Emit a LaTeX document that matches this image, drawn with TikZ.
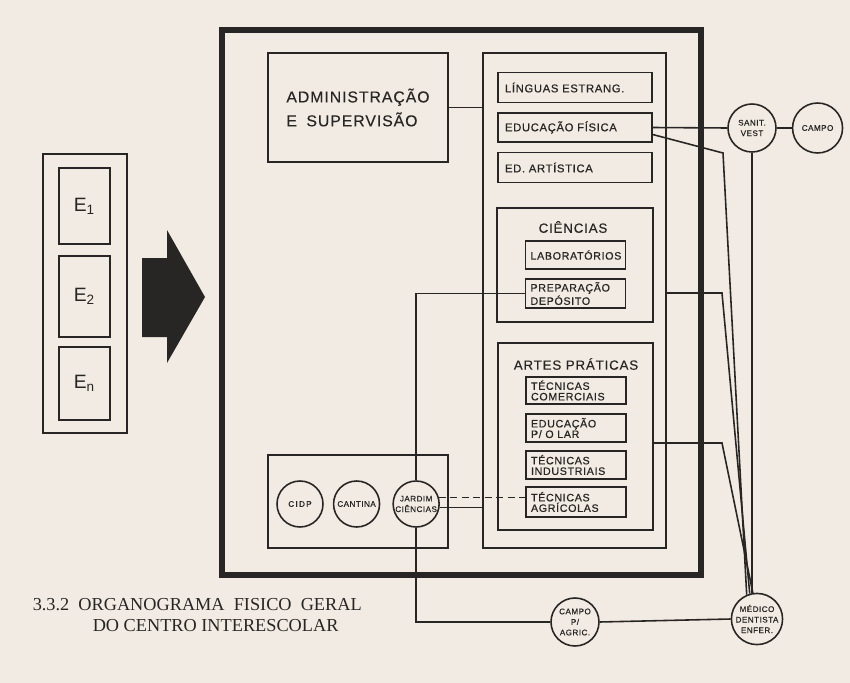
\documentclass[tikz,border=0pt]{standalone}
\usepackage{fontspec}
\setmainfont{Liberation Serif}
\newfontfamily\boxfont[LetterSpace=6,FakeBold=0.6]{Liberation Sans}
\newfontfamily\headfont[LetterSpace=6,FakeBold=0.3]{Liberation Sans}
\newfontfamily\efont{Liberation Sans}
\usepackage{tikz}
\usetikzlibrary{positioning}
\definecolor{paper}{RGB}{242,235,227}
\definecolor{ink}{RGB}{40,38,36}

\begin{document}
\begin{tikzpicture}
          [x=0.02cm,y=-0.02cm,color=ink,line width=0.9pt,
           box/.style={draw,rectangle,inner sep=0pt},
           dept/.style={box,minimum width=3.08cm,minimum height=0.6cm,text width=2.8cm,inner xsep=0.14cm,align=left,font=\boxfont\fontsize{6.4}{7}\selectfont},
           sub/.style={box,minimum width=2cm,minimum height=0.56cm,text width=1.8cm,inner xsep=0.1cm,align=left,font=\boxfont\fontsize{6.1}{6}\selectfont},
           grouptitle/.style={font=\headfont\fontsize{7.6}{8}\selectfont},
           place/.style={circle,draw,minimum size=0.92cm,inner sep=0pt,align=center,font=\boxfont\fontsize{4.6}{6}\selectfont},
           ebox/.style={box,minimum width=1.02cm,font=\efont\fontsize{11}{12}\selectfont},
           link/.style={line width=0.9pt}]
          \tikzstyle{caption}=[anchor=base west,inner sep=0pt,font=\fontsize{10.4}{12}\selectfont]

          \path[use as bounding box,fill=paper] (0,0) rectangle (850,683);

          % escolas
          \node[box,minimum width=1.68cm,minimum height=5.58cm] (escolas) at (85,293.5) {};
          \node[ebox,minimum height=1.52cm] (e1) at (84.5,206) {E\textsubscript{1}};
          \node[ebox,minimum height=1.62cm] (e2) at (84.5,296.5) {E\textsubscript{2}};
          \node[ebox,minimum height=1.46cm] (en) at (84.5,383.5) {E\textsubscript{n}};
          \fill (142,258) -- (167,258) -- (167,230) -- (205,297) -- (167,363) -- (167,337) -- (142,337) -- cycle;

          % centro interescolar
          \node[box,line width=3.6pt,minimum width=9.58cm,minimum height=10.9cm] (campus) at (461.5,302.5) {};
          \node[box,minimum width=3.6cm,minimum height=2.18cm,align=left,font=\headfont\fontsize{9}{13.6}\selectfont] (admin) at (358,107.5) {ADMINISTRAÇÃO\\E\hspace{0.6em}SUPERVISÃO};
          \node[box,minimum width=3.66cm,minimum height=9.9cm] (column) at (574.5,300.5) {};

          \node[dept] (linguas) at (575,87.5) {LÍNGUAS ESTRANG.};
          \node[dept,minimum height=0.58cm] (edfis) at (575,127.5) {EDUCAÇÃO FÍSICA};
          \node[dept] (edart) at (575,167.5) {ED. ARTÍSTICA};

          \node[box,minimum width=3.12cm,minimum height=2.28cm] (ciencias) at (575,265) {};
          \node[grouptitle] (cienciastitle) at (573,227) {CIÊNCIAS};
          \node[sub] (lab) at (575.5,255) {LABORATÓRIOS};
          \node[sub,minimum height=0.58cm] (prep) at (575.5,293.5) {PREPARAÇÃO\\DEPÓSITO};

          \node[box,minimum width=3.1cm,minimum height=3.74cm] (artes) at (575.5,436.5) {};
          \node[grouptitle] (artestitle) at (576,364) {ARTES PRÁTICAS};
          \node[sub,minimum height=0.54cm] (tcom) at (576,390.5) {TÉCNICAS\\COMERCIAIS};
          \node[sub] (elar) at (576,428) {EDUCAÇÃO\\P/ O LAR};
          \node[sub] (tind) at (576,465) {TÉCNICAS\\INDUSTRIAIS};
          \node[sub,minimum height=0.6cm] (tagr) at (576,502) {TÉCNICAS\\AGRÍCOLAS};

          \node[box,minimum width=3.6cm,minimum height=1.86cm] (servicos) at (358,501.5) {};
          \node[place] (cidp) at (300,504) {C\,I\,D\,P};
          \node[place] (cantina) [right=0.18cm of cidp] {CANTINA};
          \node[place] (jardim) [right=0.24cm of cantina] {JARDIM\\CIÊNCIAS};

          % fora do centro
          \node[place,minimum size=0.96cm] (sanit) at (752,128) {SANIT.\\VEST};
          \node[place,minimum size=1cm] (campo) [right=0.3cm of sanit] {CAMPO};
          \node[place,minimum size=0.96cm] (campoagr) at (575,622) {CAMPO\\P/\\AGRIC.};
          \node[place,minimum size=0.96cm] (medico) at (757,619) {MÉDICO\\DENTISTA\\ENFER.};

          \coordinate (dobraA) at (723,153);
          \coordinate (dobraB) at (722,293);
          \coordinate (dobraC) at (722,443);

          \draw[link] (admin.east) -- (admin.east -| column.west);
          \draw[link] (edfis.east) -- (sanit.west);
          \draw[link] (sanit.east) -- (campo.west);
          \draw[link] ([yshift=-4pt]edfis.east) -- (dobraA) -- (medico.113);
          \draw[link] (sanit.south) -- (sanit.south |- medico.north);
          \draw[link] (dobraB -| column.east) -- (dobraB) -- (medico.106);
          \draw[link] (dobraC -| artes.east) -- (dobraC) -- (medico.99);
          \draw[link] (jardim.north) |- (prep.west);
          \draw[link] (jardim.south) |- (campoagr.west);
          \draw[link] (campoagr.east) -- (medico.west);
          \draw[link,dash pattern=on 4pt off 2.5pt] (jardim.16) -- (jardim.16 -| tagr.west);
          \draw[link] (jardim.-8) -- (jardim.-8 -| column.west);

          \node[caption] (titulo1) at (32,610) {3.3.2\hspace{0.5em}ORGANOGRAMA\hspace{0.5em}FISICO\hspace{0.5em}GERAL};
          \node[caption] (titulo2) at (92,631) {DO CENTRO INTERESCOLAR};
        \end{tikzpicture}
\end{document}
